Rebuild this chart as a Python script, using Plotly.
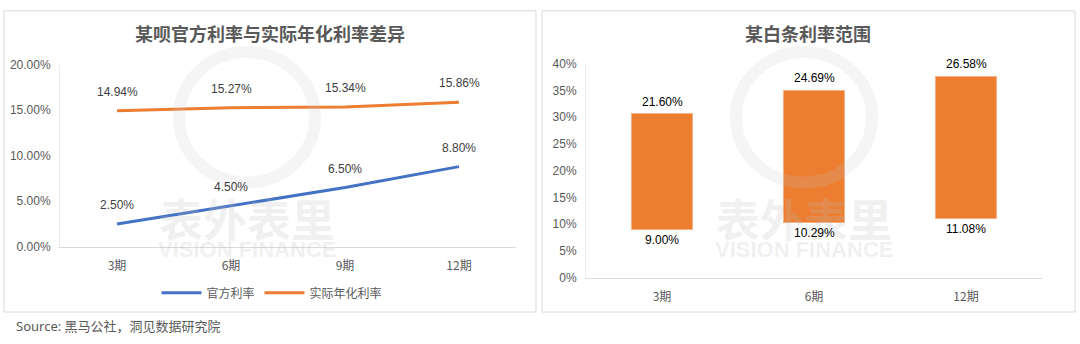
import plotly.graph_objects as go

# Left chart data
periods_left = ["3期", "6期", "9期", "12期"]
official_rate = [2.50, 4.50, 6.50, 8.80]
actual_rate = [14.94, 15.27, 15.34, 15.86]

# Right chart data
periods_right = ["3期", "6期", "12期"]
range_low = [9.00, 10.29, 11.08]
range_span = [21.60, 24.69, 26.58]

left_ticks = [0, 5, 10, 15, 20]
left_tick_labels = ["0.00%", "5.00%", "10.00%", "15.00%", "20.00%"]
right_ticks = [0, 5, 10, 15, 20, 25, 30, 35, 40]
right_tick_labels = ["0%", "5%", "10%", "15%", "20%", "25%", "30%", "35%", "40%"]

BLUE = "#4472C4"
ORANGE = "#ED7D31"
TXT = "#404040"
AX = "#595959"
FONT = "Liberation Sans, Noto Sans CJK SC, sans-serif"
CJK = "Noto Sans CJK SC, sans-serif"

fig = go.Figure()

# Left lines
fig.add_trace(go.Scatter(x=periods_left, y=official_rate, mode="lines", name="官方利率",
                         line=dict(color=BLUE, width=3), xaxis="x", yaxis="y"))
fig.add_trace(go.Scatter(x=periods_left, y=actual_rate, mode="lines", name="实际年化利率",
                         line=dict(color=ORANGE, width=3), xaxis="x", yaxis="y"))

# Right floating bars
fig.add_trace(go.Bar(x=periods_right, y=range_low, marker=dict(color="rgba(0,0,0,0)", line=dict(width=0)),
                     showlegend=False, hoverinfo="skip", xaxis="x2", yaxis="y2"))
fig.add_trace(go.Bar(x=periods_right, y=range_span, marker=dict(color=ORANGE, line=dict(color="#F4B183", width=1)),
                     showlegend=False, xaxis="x2", yaxis="y2"))

W, H = 1080, 344
def px(x): return x / W
def py(y): return 1 - y / H

fig.update_layout(
    width=W, height=H, margin=dict(l=0, r=0, t=0, b=0),
    paper_bgcolor="white", plot_bgcolor="rgba(0,0,0,0)",
    font=dict(family=FONT, color=AX, size=12),
    barmode="stack", bargap=0.6,
    showlegend=True,
    legend=dict(orientation="h", x=px(272), y=py(298), xanchor="center", yanchor="middle",
                traceorder="normal", itemwidth=40,
                font=dict(family=CJK, size=12, color=AX), bgcolor="rgba(0,0,0,0)"),
    xaxis=dict(domain=[px(60), px(516)], range=[-0.5, 3.5], showline=True, linecolor="#D9D9D9", linewidth=1,
               ticks="", tickfont=dict(family=CJK, size=12, color=AX), ticklabelstandoff=8, fixedrange=True),
    yaxis=dict(domain=[py(250), py(60)], range=[0, 20], tickvals=left_ticks, ticktext=left_tick_labels,
               showgrid=False, zeroline=False, showline=True, linecolor="#EDEDED",
               tickfont=dict(size=12, color=AX), ticks="", ticklabelstandoff=6),
    xaxis2=dict(domain=[px(586), px(1042)], anchor="y2", range=[-0.5, 2.5], showline=True, linecolor="#D9D9D9",
                ticks="", tickfont=dict(family=CJK, size=12, color=AX), ticklabelstandoff=8),
    yaxis2=dict(domain=[py(282), py(59)], anchor="x2", range=[0, 40], tickvals=right_ticks,
                ticktext=right_tick_labels, showgrid=False, zeroline=False, showline=True,
                linecolor="#EDEDED", tickfont=dict(size=12, color=AX), ticks="", ticklabelstandoff=6),
)

shapes = [
    dict(type="rect", xref="paper", yref="paper", x0=px(4), x1=px(536), y0=py(318), y1=py(4),
         line=dict(color="#D9D9D9", width=1), layer="below"),
    dict(type="rect", xref="paper", yref="paper", x0=px(542), x1=px(1075), y0=py(318), y1=py(4),
         line=dict(color="#D9D9D9", width=1), layer="below"),
]
# watermark circles
for cx in (247, 804):
    shapes.append(dict(type="circle", xref="paper", yref="paper",
                       x0=px(cx - 68), x1=px(cx + 68), y0=py(115 + 68), y1=py(115 - 68),
                       line=dict(color="rgba(200,200,200,0.18)", width=12), layer="above"))
fig.update_layout(shapes=shapes)

annotations = [
    dict(text="<b>某呗官方利率与实际年化利率差异</b>", x=px(270), y=py(27), xref="paper", yref="paper",
         showarrow=False, font=dict(family=CJK, size=18, color=AX), xanchor="center", yanchor="middle"),
    dict(text="<b>某白条利率范围</b>", x=px(808), y=py(27), xref="paper", yref="paper",
         showarrow=False, font=dict(family=CJK, size=18, color=AX), xanchor="center", yanchor="middle"),
    dict(text="Source: 黑马公社，洞见数据研究院", x=px(14), y=py(333), xref="paper", yref="paper",
         showarrow=False, font=dict(family="Noto Sans, Noto Sans CJK SC, sans-serif", size=13, color=AX),
         xanchor="left", yanchor="middle"),
]
for cx in (247, 804):
    annotations.append(dict(text="<b>表外表里</b>", x=px(cx), y=py(220), xref="paper", yref="paper",
                            showarrow=False, font=dict(family=CJK, size=44, color="rgba(190,190,190,0.22)"),
                            xanchor="center", yanchor="middle"))
    annotations.append(dict(text="<b>VISION FINANCE</b>", x=px(cx), y=py(253), xref="paper", yref="paper",
                            showarrow=False, font=dict(family="Liberation Sans, sans-serif", size=22,
                                                       color="rgba(190,190,190,0.22)"),
                            xanchor="center", yanchor="middle"))

# data labels
for series in (official_rate, actual_rate):
    for cat, v in zip(periods_left, series):
        annotations.append(dict(text=f"{v:.2f}%", x=cat, y=v, xref="x", yref="y", showarrow=False,
                                yshift=19, font=dict(family=FONT, size=12, color=TXT)))
for cat, lo, sp in zip(periods_right, range_low, range_span):
    annotations.append(dict(text=f"{sp:.2f}%", x=cat, y=lo + sp, xref="x2", yref="y2", showarrow=False,
                            yshift=12, font=dict(family=FONT, size=12, color="#000000")))
    annotations.append(dict(text=f"{lo:.2f}%", x=cat, y=lo, xref="x2", yref="y2", showarrow=False,
                            yshift=-11, font=dict(family=FONT, size=12, color="#000000")))
fig.update_layout(annotations=annotations)

fig.write_html("out.html")
